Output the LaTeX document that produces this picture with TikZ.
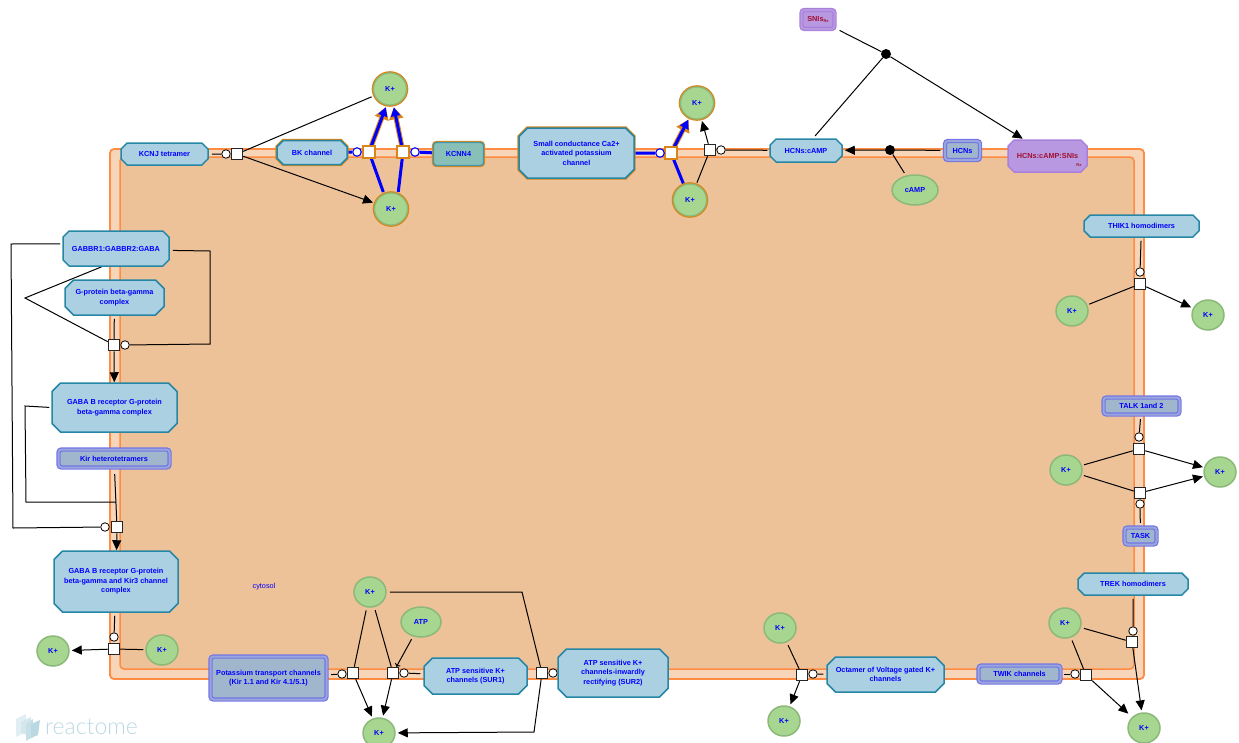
\documentclass[tikz,border=0pt]{standalone}
\usepackage{fontspec}
\setmainfont{Liberation Sans}
\newfontfamily\logofont{Lato Light}
\usetikzlibrary{shapes.misc,shapes.geometric,arrows.meta}
\pgfdeclarelayer{comp}\pgfdeclarelayer{edges}
\pgfsetlayers{comp,edges,main}
\definecolor{cxfill}{HTML}{ABD0E2}
\definecolor{cxline}{HTML}{2686A5}
\definecolor{setfill}{HTML}{A0B6CC}
\definecolor{setline}{HTML}{7474E6}
\definecolor{setgap}{HTML}{98A6DC}
\definecolor{kfill}{HTML}{A6D68F}
\definecolor{kline}{HTML}{8CB87A}
\definecolor{hilite}{HTML}{D8861A}
\definecolor{orangeline}{HTML}{FF8C42}
\definecolor{outerfill}{HTML}{F6D5B8}
\definecolor{innerfill}{HTML}{EEC298}
\definecolor{purplefill}{HTML}{B898E0}
\definecolor{purpleline}{HTML}{A880DC}
\definecolor{purpletext}{HTML}{A01030}
\definecolor{tealfill}{HTML}{88C0B8}
\tikzset{
 lbl/.style={font=\fontsize{7.3}{9.5}\selectfont\bfseries,text=blue,align=center,inner sep=0pt},
 cx/.style={lbl,chamfered rectangle,chamfered rectangle xsep=5pt,fill=cxfill,draw=cxline,line width=1.5pt,inner sep=0pt},
 cxh/.style={cx,preaction={draw=hilite,line width=3.4pt}},
 eset/.style={lbl,rectangle,rounded corners=3pt,fill=setfill,draw=setline,double=setgap,double distance=2pt,line width=1.2pt},
 pset/.style={eset,fill=purplefill,draw=purpleline,double=purplefill,text=purpletext},
 tealbox/.style={lbl,rectangle,rounded corners=3pt,fill=tealfill,draw=cxline!70!tealfill,line width=1.3pt,preaction={draw=hilite,line width=3.2pt}},
 mol/.style={lbl,ellipse,fill=kfill,draw=kline,line width=1.5pt,minimum width=32pt,minimum height=30pt},
 molh/.style={mol,draw=kline,line width=1.2pt,preaction={draw=hilite,line width=3.6pt},minimum width=33pt,minimum height=32pt},
 sq/.style={rectangle,fill=white,draw=black!85,line width=1pt,minimum size=11.5pt,inner sep=0pt},
 sqh/.style={sq,draw=hilite,line width=1.6pt},
 cat/.style={circle,fill=white,draw=black,line width=0.8pt,minimum size=8.5pt,inner sep=0pt},
 cath/.style={cat,draw=blue,line width=1.1pt},
 dot/.style={circle,fill=black,minimum size=10pt,inner sep=0pt},
 ln/.style={draw=black,line width=1pt},
 arr/.style={ln,-{Triangle[length=10pt,width=9pt]}},
 bl/.style={draw=blue,line width=3pt},
 gap/.style={shorten <=#1pt},
 gapend/.style={shorten >=#1pt},
 blarr/.style={bl,-{Triangle[length=9pt,width=9pt]},preaction={draw=hilite,line width=5pt,-{Triangle[length=12pt,width=14pt]}}},
}
\begin{document}
\begin{tikzpicture}[x=1pt,y=-1pt]
\useasboundingbox (0,0) rectangle (1239,742);
\begin{pgfonlayer}{comp}
\draw[draw=orangeline,fill=outerfill,line width=1.8pt,rounded corners=4pt] (110,149) rectangle (1144,679);
\draw[draw=orangeline,fill=innerfill,line width=1.5pt,rounded corners=4pt] (120,157) rectangle (1134,669);
\end{pgfonlayer}
% logo
\fill[cxline!14] (16,719) -- (26,714) -- (26,732) -- (16,737) -- cycle;
\fill[cxline!20] (21,722) -- (31,717) -- (31,736) -- (21,733) -- cycle;
\fill[cxline!26] (26,724) -- (33,719) -- (33,737) -- (26,741) -- cycle;
\fill[cxline!32] (31,724) -- (40,720) -- (38,735) -- (31,738) -- cycle;
\node[font=\logofont\fontsize{23}{23}\selectfont,text=cxline!32,inner sep=0pt,anchor=west] (logo) at (45,727) {reactome};
\node[font=\fontsize{7.3}{9}\selectfont,text=blue,inner sep=0pt] (cytosol) at (264,586.5) {cytosol};
% ---- top
\node[cx,minimum width=87pt,minimum height=22pt] (kcnj) at (164.5,154) {KCNJ tetramer};
\node[cxh,minimum width=70pt,minimum height=24pt] (bk) at (312,152.5) {BK channel};
\node[tealbox,minimum width=50pt,minimum height=23pt] (kcnn) at (458.5,154) {KCNN4};
\node[cxh,minimum width=115pt,minimum height=50pt] (small) at (576.5,153) {Small conductance Ca2+\\activated potassium\\channel};
\node[cx,minimum width=72pt,minimum height=23pt] (hcncamp) at (806,150.5) {HCNs:cAMP};
\node[eset,minimum width=35pt,minimum height=19pt] (hcns) at (962.5,150.5) {HCNs};
\node[cx,draw=purpleline,fill=purplefill,text=purpletext,minimum width=79pt,minimum height=32pt] (hcnsni) at (1047.5,156) {HCNs:cAMP:SNIs};
\node[font=\fontsize{4}{4}\selectfont\bfseries,text=purpletext,inner sep=0pt] (rxa) at (1079,165) {Rx};
\node[pset,minimum width=33pt,minimum height=19pt] (snis) at (818,19.5) {SNIs\raisebox{-1pt}{\fontsize{4}{4}\selectfont Rx}};
\node[mol,minimum width=46pt,minimum height=30pt] (camp) at (915,190) {cAMP};
\node[molh] (ka) at (390,89) {K+};
\node[molh] (kb) at (391,209) {K+};
\node[molh] (kc) at (697,103) {K+};
\node[molh] (kd) at (690,200) {K+};
\node[sq] (s1) at (237,154) {}; \node[cat] (c1) at (226,154) {};
\node[sqh] (s2) at (369,152) {}; \node[cath] (c2) at (357,152) {};
\node[sqh] (s3) at (403,152) {}; \node[cath] (c3) at (415,152) {};
\node[sqh] (s4) at (671,153) {}; \node[cath] (c4) at (660,153) {};
\node[sq] (s5) at (710,150) {}; \node[cat] (c5) at (721,150) {};
\node[dot] (d1) at (886,54) {};
\node[dot] (d2) at (890,150) {};
% ---- left
\node[cx,minimum width=106pt,minimum height=35pt] (gabbr) at (116,248.5) {GABBR1:GABBR2:GABA};
\node[cx,minimum width=99pt,minimum height=35pt] (gprot) at (114.5,297.5) {G-protein beta-gamma\\complex};
\node[cx,minimum width=125pt,minimum height=49pt] (gabab) at (114.5,407.5) {GABA B receptor G-protein\\beta-gamma complex};
\node[eset,minimum width=111pt,minimum height=18pt] (kir) at (114,458.5) {Kir heterotetramers};
\node[cx,minimum width=124pt,minimum height=61pt] (gabkir) at (116,581.5) {GABA B receptor G-protein\\beta-gamma and Kir3 channel\\complex};
\node[sq] (s6) at (114,345) {}; \node[cat] (c6) at (125,345) {};
\node[sq] (s7) at (117,527) {}; \node[cat] (c7) at (105,527) {};
\node[sq] (s8) at (114,649) {}; \node[cat] (c8) at (114,637) {};
\node[mol] (ke) at (53,651) {K+};
\node[mol] (kf) at (162,650) {K+};
% ---- bottom
\node[eset,minimum width=116pt,minimum height=43pt] (potas) at (268.5,678) {Potassium transport channels\\(Kir 1.1 and Kir 4.1/5.1)};
\node[sq] (s9) at (353,673) {}; \node[cat] (c9) at (342,674) {};
\node[sq] (s10) at (393,673) {}; \node[cat] (c10) at (404,673) {};
\node[sq] (s11) at (542,673) {}; \node[cat] (c11) at (553,673) {};
\node[mol] (kg) at (370,592) {K+};
\node[mol] (kh) at (379,733) {K+};
\node[mol,minimum width=40pt,minimum height=30pt] (atp) at (421,622) {ATP};
\node[cx,minimum width=103pt,minimum height=36pt] (sur1) at (475.5,676) {ATP sensitive K+\\channels (SUR1)};
\node[cx,minimum width=110pt,minimum height=48pt] (sur2) at (613,673) {ATP sensitive K+\\channels-inwardly\\rectifying (SUR2)};
\node[mol] (ki) at (780,628) {K+};
\node[mol] (kj) at (784,721) {K+};
\node[sq] (s12) at (802,675) {}; \node[cat] (c12) at (813,674) {};
\node[cx,minimum width=117pt,minimum height=35pt] (oct) at (885.5,674.5) {Octamer of Voltage gated K+\\channels};
\node[eset,minimum width=82pt,minimum height=17pt] (twik) at (1019.5,674) {TWIK channels};
\node[sq] (s13) at (1086,675) {}; \node[cat] (c13) at (1075,674) {};
\node[mol] (kk) at (1065,623) {K+};
\node[mol] (kl) at (1144,728) {K+};
\node[cx,minimum width=110pt,minimum height=22pt] (trek) at (1133,584) {TREK homodimers};
\node[sq] (s14) at (1132,642) {}; \node[cat] (c14) at (1133,631) {};
% ---- right
\node[cx,minimum width=115pt,minimum height=22pt] (thik) at (1141.5,226) {THIK1 homodimers};
\node[sq] (s15) at (1140,284) {}; \node[cat] (c15) at (1140,272) {};
\node[mol] (km) at (1072,311) {K+};
\node[mol] (kn) at (1208,315) {K+};
\node[eset,minimum width=76pt,minimum height=17pt] (talk) at (1141.5,406) {TALK 1and 2};
\node[sq] (s16) at (1139,449) {}; \node[cat] (c16) at (1139,437) {};
\node[sq] (s17) at (1140,493) {}; \node[cat] (c17) at (1140,504) {};
\node[mol] (ko) at (1066,470) {K+};
\node[mol] (kp) at (1220,472) {K+};
\node[eset,minimum width=32pt,minimum height=17pt] (task) at (1140.5,536) {TASK};
% named free corners
\coordinate (g1) at (11,244); \coordinate (g2) at (13,528);
\coordinate (g3) at (210,251); \coordinate (g4) at (210,344);
\coordinate (g5) at (25,298);
\coordinate (g6) at (25,406); \coordinate (g7) at (26,502); \coordinate (g8) at (116,502);
\coordinate (b1) at (522,592); \coordinate (b2) at (534,732);
\begin{pgfonlayer}{edges}
% top
\draw[ln,gap=3] (kcnj) -- (c1);
\draw[ln,gapend=3] (s1) -- (ka);
\draw[arr,gapend=2] (s1) -- (kb);
\draw[bl,gap=2] (kb.115) -- (s2);
\draw[bl,gap=2] (kb.65) -- (s3);
\draw[blarr,gapend=2] (s2) -- (ka.-102);
\draw[blarr,gapend=2] (s3) -- (ka.-78);
\draw[bl] (bk) -- (c2);
\draw[bl] (kcnn) -- (c3);
\draw[bl] (small) -- (c4);
\draw[bl,gap=1] (kd) -- (s4);
\draw[blarr,gapend=2] (s4) -- (kc);
\draw[arr,gapend=2] (s5) -- (kc);
\draw[ln,gap=2] (kd) -- (s5);
\draw[ln,gap=2] (hcncamp) -- (c5);
\draw[ln,gap=4] (hcns) -- (d2);
\draw[arr,gapend=2] (d2) -- (hcncamp);
\draw[ln,gap=3] (camp) -- (d2);
\draw[ln,gap=5] (snis) -- (d1);
\draw[ln,gap=3] (hcncamp.60) -- (d1);
\draw[arr,gapend=1] (d1) -- (hcnsni.145);
% left
\draw[ln,gap=2] (gabbr.175) -- (g1) -- (g2) -- (c7);
\draw[ln,gap=3] (gabbr.-2) -- (g3) -- (g4) -- (c6);
\draw[ln] (gabbr.-128) -- (g5) -- (s6);
\draw[ln,gap=3] (gprot) -- (s6);
\draw[arr] (s6) -- (gabab);
\draw[ln,gap=2] (gabab.west) -- (g6) -- (g7) -- (g8);
\draw[ln,gap=6] (kir) -- (s7);
\draw[arr] (s7) -- (gabkir);
\draw[ln,gap=3] (gabkir) -- (c8);
\draw[ln,gap=2] (kf) -- (s8);
\draw[arr,gapend=2] (s8) -- (ke);
% bottom
\draw[ln,gap=4] (potas) -- (c9);
\draw[ln,gap=3] (kg) -- (s9);
\draw[ln,gap=3] (kg) -- (s10);
\draw[arr,gapend=2] (s9) -- (kh);
\draw[arr,gapend=2] (s10) -- (kh);
\draw[ln,gap=3,-{To[length=3pt]}] (atp) -- (s10);
\draw[ln,gap=3] (sur1) -- (c10);
\draw[ln] (sur2) -- (c11);
\draw[ln,gap=3] (kg.east) -- (b1) -- (s11);
\draw[arr,gapend=2] (s11) -- (b2) -- (kh);
% bottom right
\draw[ln,gap=3] (ki) -- (s12);
\draw[arr,gapend=2] (s12) -- (kj);
\draw[ln,gap=3] (oct) -- (c12);
\draw[ln,gap=3] (twik) -- (c13);
\draw[ln,gap=3] (kk) -- (s13);
\draw[arr,gapend=5] (s13) -- (kl);
\draw[ln,gap=3] (kk) -- (s14);
\draw[ln,gap=3] (trek) -- (c14);
\draw[arr,gapend=2] (s14) -- (kl);
% right
\draw[ln,gap=3] (thik) -- (c15);
\draw[ln,gap=2] (km) -- (s15);
\draw[arr,gapend=2] (s15) -- (kn);
\draw[ln,gap=4] (talk) -- (c16);
\draw[ln,gap=4] (task) -- (c17);
\draw[ln,gap=2] (ko) -- (s16);
\draw[ln,gap=2] (ko) -- (s17);
\draw[arr,gapend=1] (s16) -- (kp);
\draw[arr,gapend=1] (s17) -- (kp);
\end{pgfonlayer}
\end{tikzpicture}
\end{document}
